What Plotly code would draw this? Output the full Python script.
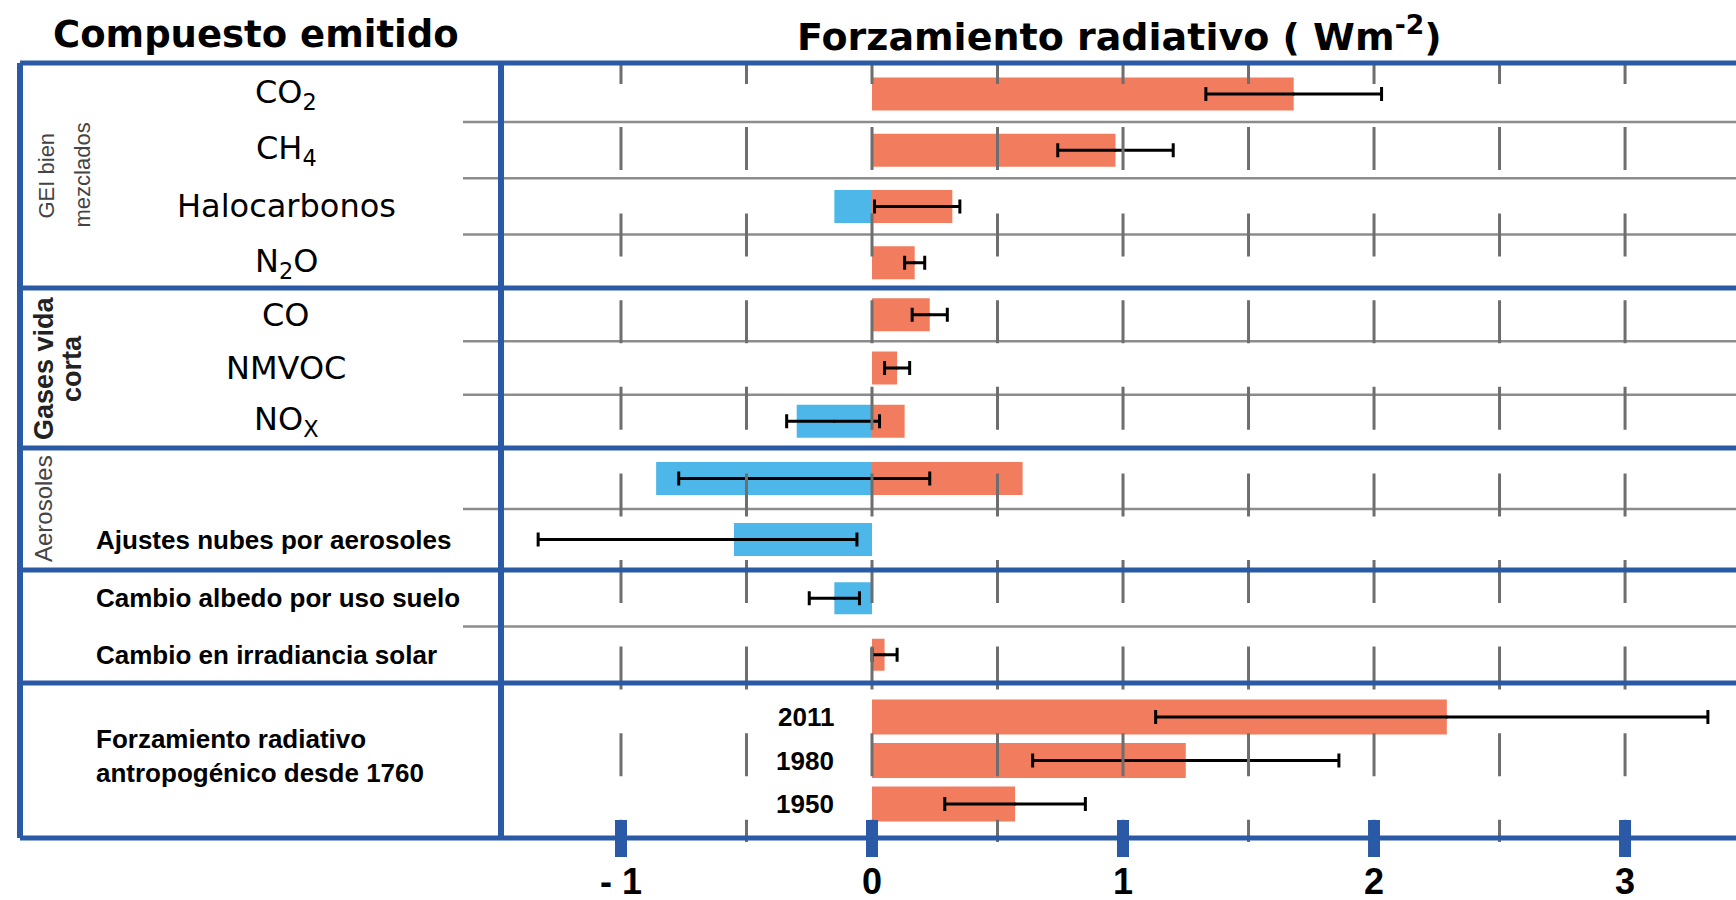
import plotly.graph_objects as go
from plotly.subplots import make_subplots

# ---------------- data ----------------
categories = ["CO2", "CH4", "Halocarbonos", "N2O",
              "CO", "NMVOC", "NOx",
              "Aerosoles", "Ajustes nubes por aerosoles",
              "Cambio albedo por uso suelo", "Cambio en irradiancia solar",
              "2011", "1980", "1950"]
label_text = ["CO<sub>2</sub>", "CH<sub>4</sub>", "Halocarbonos", "N<sub>2</sub>O",
              "CO", "NMVOC", "NO<sub>X</sub>",
              "", "Ajustes nubes por aerosoles",
              "Cambio albedo por uso suelo", "Cambio en irradiancia solar",
              "2011", "1980", "1950"]
section = [0, 0, 0, 0, 1, 1, 1, 2, 2, 3, 3, 4, 4, 4]
positive = [1.68, 0.97, 0.32, 0.17, 0.23, 0.10, 0.13, 0.60, None, None, 0.05, 2.29, 1.25, 0.57]
negative = [None, None, -0.15, None, None, None, -0.30, -0.86, -0.55, -0.15, None, None, None, None]
best = [1.68, 0.97, 0.18, 0.17, 0.23, 0.10, -0.15, -0.27, -0.55, -0.15, 0.05, 2.29, 1.25, 0.57]
low = [1.33, 0.74, 0.01, 0.13, 0.16, 0.05, -0.34, -0.77, -1.33, -0.25, 0.00, 1.13, 0.64, 0.29]
high = [2.03, 1.20, 0.35, 0.21, 0.30, 0.15, 0.03, 0.23, -0.06, -0.05, 0.10, 3.33, 1.86, 0.85]

group_labels = [["GEI bien", "mezclados"], ["Gases vida", "corta"], ["Aerosoles"], [], []]
total_label = "Forzamiento radiativo<br>antropogénico desde 1760"
left_title = "Compuesto emitido"
right_title = "Forzamiento radiativo ( Wm<sup>-2</sup>)"

x_ticks = [-1, 0, 1, 2, 3]
x_ticktext = ["- 1", "0", "1", "2", "3"]
grid_vals = [-1, -0.5, 0, 0.5, 1, 1.5, 2, 2.5, 3]

# ---------------- layout constants (px) ----------------
W, H = 1736, 900
L, RE, T, B = 501, 1736, 63, 838
PW, PH = RE - L, B - T
sec_px = [225, 160, 122, 113, 155]
sec_pad = [(0.55, 0.45), (0.5, 0.5), (0.5, 0.5), (0.5, 0.5), (0.78, 0.78)]
bar_px = [33, 33, 33, 32, 35]
group_x = [[46, 82], [44, 72], [43]]
x_range = [-1.478, 3.442]

RED = "#F27C5E"
BLUE = "#4DB7E9"
FRAME = "#2A5AA6"
GRID = "#8C8C8C"
VGRID = "#6E6E6E"
FONT_R = "DejaVu Sans"
FONT_B = "Liberation Sans"


def px_x(px):
    return (px - L) / PW


def px_y(py):
    return (B - py) / PH


def yname(row):
    return "y" if row == 1 else f"y{row}"


fig = make_subplots(rows=5, cols=1, shared_xaxes=True, vertical_spacing=0,
                    row_heights=sec_px)

annotations = []
shapes = []

for s in range(5):
    row = s + 1
    idx = [i for i in range(len(categories)) if section[i] == s]
    cats = [categories[i] for i in idx]
    n = len(idx)
    ptop, pbot = sec_pad[s]
    unit_px = sec_px[s] / (n - 1 + ptop + pbot)
    bw = bar_px[s] / unit_px
    fig.add_trace(go.Bar(y=cats, x=[positive[i] for i in idx], orientation="h",
                         marker=dict(color=RED, line=dict(width=0)), width=bw,
                         showlegend=False, hoverinfo="skip"), row=row, col=1)
    fig.add_trace(go.Bar(y=cats, x=[negative[i] for i in idx], orientation="h",
                         marker=dict(color=BLUE, line=dict(width=0)), width=bw,
                         showlegend=False, hoverinfo="skip"), row=row, col=1)
    fig.add_trace(go.Scatter(y=cats, x=[best[i] for i in idx], mode="markers",
                             marker=dict(size=3, color="black"),
                             error_x=dict(type="data", symmetric=False,
                                          array=[high[i] - best[i] for i in idx],
                                          arrayminus=[best[i] - low[i] for i in idx],
                                          color="black", thickness=3, width=7),
                             showlegend=False, hoverinfo="skip"), row=row, col=1)
    fig.update_yaxes(row=row, col=1, type="category", categoryorder="array",
                     categoryarray=cats, range=[n - 1 + pbot, -ptop],
                     showticklabels=False, showgrid=False, zeroline=False,
                     showline=False, ticks="", fixedrange=True)

    yr = yname(row)
    # left column labels (positioned by category index on the section axis)
    for k, i in enumerate(idx):
        txt = label_text[i]
        if not txt:
            continue
        if s <= 1:
            annotations.append(dict(xref="paper", x=px_x(286), xanchor="center",
                                    yref=yr, y=k, yanchor="middle",
                                    text=txt, showarrow=False,
                                    font=dict(family=FONT_R, size=32, color="black")))
        elif s <= 3:
            annotations.append(dict(xref="paper", x=px_x(94), xanchor="left",
                                    yref=yr, y=k, yanchor="middle",
                                    text=txt, showarrow=False,
                                    font=dict(family=FONT_B, size=26, color="black",
                                              weight="bold")))
        else:
            annotations.append(dict(xref="paper", x=px_x(836), xanchor="right",
                                    yref=yr, y=k, yanchor="middle",
                                    text=txt, showarrow=False,
                                    font=dict(family=FONT_B, size=26, color="black",
                                              weight="bold")))
    if s == 4:
        annotations.append(dict(xref="paper", x=px_x(94), xanchor="left",
                                yref=yr + " domain", y=0.5, yanchor="middle", yshift=5,
                                text=total_label, showarrow=False, align="left",
                                font=dict(family=FONT_B, size=26, color="black",
                                          weight="bold")))

    # rotated group labels
    for k, g in enumerate(group_labels[s]):
        bold = (s == 1)
        annotations.append(dict(xref="paper", x=px_x(group_x[s][k]), xanchor="center",
                                yref=yr + " domain", y=0.5, yanchor="middle",
                                text=g, textangle=-90, showarrow=False,
                                font=dict(family=FONT_B,
                                          size=27 if bold else (24 if s == 2 else 22),
                                          color="#222" if bold else "#444",
                                          weight="bold" if bold else "normal")))

    # horizontal row separators inside sections
    if s < 4:
        for k in range(n - 1):
            shapes.append(dict(type="line", xref="paper", x0=px_x(463), x1=1,
                               yref=yr, y0=k + 0.5, y1=k + 0.5, layer="above",
                               line=dict(color=GRID, width=2.5)))

# vertical dashed grid (above bars)
dash = "21px,43px" + ",43px,43.6px" * 10
for v in grid_vals:
    shapes.append(dict(type="line", xref="x5", x0=v, x1=v, yref="paper",
                       y0=1, y1=px_y(842), layer="above",
                       line=dict(color=VGRID, width=3, dash=dash)))

# section borders
for s in range(4):
    shapes.append(dict(type="line", xref="paper", x0=px_x(20), x1=1,
                       yref=yname(s + 1) + " domain", y0=0, y1=0, layer="above",
                       line=dict(color=FRAME, width=5)))
# outer frame
for yy in (0, 1):
    shapes.append(dict(type="line", xref="paper", x0=px_x(20), x1=1,
                       yref="paper", y0=yy, y1=yy, layer="above",
                       line=dict(color=FRAME, width=5)))
for xx in (px_x(20), 0):
    shapes.append(dict(type="line", xref="paper", x0=xx, x1=xx,
                       yref="paper", y0=0, y1=1, layer="above",
                       line=dict(color=FRAME, width=6)))
# major tick marks
for t in x_ticks:
    shapes.append(dict(type="line", xref="x5", x0=t, x1=t, yref="paper",
                       y0=px_y(820), y1=px_y(857), layer="above",
                       line=dict(color=FRAME, width=12)))

# titles
annotations.append(dict(xref="paper", x=px_x(256), xanchor="center",
                        yref="paper", y=px_y(34), yanchor="middle",
                        text=left_title, showarrow=False,
                        font=dict(family=FONT_R, size=37, color="black", weight="bold")))
annotations.append(dict(xref="paper", x=px_x(1119), xanchor="center",
                        yref="paper", y=px_y(34), yanchor="middle",
                        text=right_title, showarrow=False,
                        font=dict(family=FONT_R, size=38, color="black", weight="bold")))

fig.update_xaxes(range=x_range, showgrid=False, zeroline=False, showline=False,
                 ticks="", fixedrange=True)
fig.update_xaxes(row=5, col=1, tickmode="array", tickvals=x_ticks, ticktext=x_ticktext,
                 showticklabels=True, ticklabelstandoff=19,
                 tickfont=dict(family=FONT_B, size=36, color="black", weight="bold"))

fig.update_layout(width=W, height=H, barmode="relative",
                  margin=dict(l=L, r=W - RE, t=T, b=H - B, autoexpand=False),
                  paper_bgcolor="white", plot_bgcolor="white",
                  shapes=shapes, annotations=annotations, showlegend=False)

fig.write_html("out.html", config={"displayModeBar": False})
